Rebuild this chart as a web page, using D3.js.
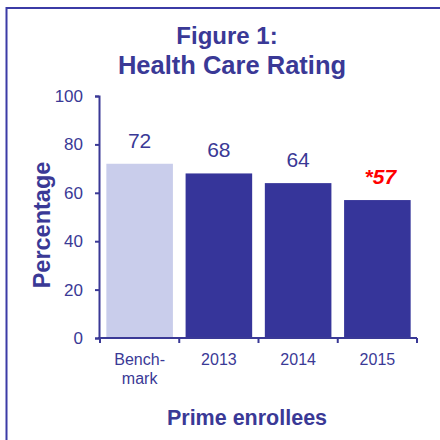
<!DOCTYPE html>
<html>
<head>
<meta charset="utf-8">
<script src="https://cdn.jsdelivr.net/npm/d3@7"></script>
<style>
  html, body { margin: 0; padding: 0; background: #fff; }
  svg { display: block; font-family: "Liberation Sans", Arial, sans-serif; }
</style>
</head>
<body>
<svg id="chart" width="440" height="440"></svg>
<script>
const categories = ["Benchmark", "2013", "2014", "2015"];
const categoryLabels = [["Bench-", "mark"], ["2013"], ["2014"], ["2015"]];
const values = [72, 68, 64, 57];
const valueLabels = ["72", "68", "64", "*57"];
const yTicks = [0, 20, 40, 60, 80, 100];

const textColor = "#3a3996";
const darkBar = "#36359a";
const lightBar = "#c9cdeb";

const svg = d3.select("#chart");

// frame
svg.append("rect")
  .attr("x", 6.5).attr("y", 8)
  .attr("width", 460).attr("height", 460)
  .attr("fill", "none")
  .attr("stroke", "#3b3ba6")
  .attr("stroke-width", 2);

// title
const title = svg.append("text")
  .attr("text-anchor", "middle")
  .attr("fill", textColor)
  .attr("font-weight", "bold");
title.append("tspan").attr("x", 227).attr("y", 44).attr("font-size", 24).text("Figure 1:");
title.append("tspan").attr("x", 232).attr("y", 74).attr("font-size", 25.5).text("Health Care Rating");

const x = d3.scaleBand().domain(categories).range([100, 417]).paddingInner(0.16).paddingOuter(0.08);
const y = d3.scaleLinear().domain([0, 100]).range([338, 96]);

// bars
svg.selectAll("rect.bar")
  .data(categories)
  .enter().append("rect")
  .attr("class", "bar")
  .attr("x", d => x(d))
  .attr("width", x.bandwidth())
  .attr("y", (d, i) => y(values[i]))
  .attr("height", (d, i) => y(0) - y(values[i]))
  .attr("fill", (d, i) => i === 0 ? lightBar : darkBar);

// value labels
svg.selectAll("text.val")
  .data(categories)
  .enter().append("text")
  .attr("class", "val")
  .attr("x", (d, i) => x(d) + x.bandwidth() / 2 + (i === 3 ? 3 : 0))
  .attr("y", (d, i) => y(values[i]) - 16)
  .attr("text-anchor", "middle")
  .attr("font-size", 21)
  .attr("fill", (d, i) => i === 3 ? "#ff0000" : textColor)
  .attr("font-weight", (d, i) => i === 3 ? "bold" : "normal")
  .attr("font-style", (d, i) => i === 3 ? "italic" : "normal")
  .text((d, i) => valueLabels[i]);

// y axis
const yAxis = svg.append("g")
  .attr("transform", "translate(99,0)")
  .call(d3.axisLeft(y).tickValues(yTicks).tickSize(4).tickPadding(12).tickFormat(d3.format("d")));
yAxis.select(".domain").attr("stroke", textColor).attr("stroke-width", 2);
yAxis.selectAll(".tick line").attr("stroke", textColor).attr("stroke-width", 2);
yAxis.selectAll(".tick text").attr("fill", textColor).attr("font-size", 17)
  .attr("font-family", "'Liberation Sans', Arial, sans-serif");

// x axis: line and ticks at band boundaries
const xAxisG = svg.append("g");
xAxisG.append("line")
  .attr("x1", 98).attr("x2", 417)
  .attr("y1", y(0)).attr("y2", y(0))
  .attr("stroke", textColor).attr("stroke-width", 2);
const edges = categories.map(d => x(d) - x.step() * x.paddingInner() / 2);
edges.push(417);
edges[0] = 100;
xAxisG.selectAll("line.xt")
  .data(edges)
  .enter().append("line")
  .attr("class", "xt")
  .attr("x1", d => d).attr("x2", d => d)
  .attr("y1", y(0)).attr("y2", y(0) + 5)
  .attr("stroke", textColor).attr("stroke-width", 2);

// x tick labels
const xl = svg.selectAll("text.xl")
  .data(categories)
  .enter().append("text")
  .attr("class", "xl")
  .attr("text-anchor", "middle")
  .attr("fill", textColor)
  .attr("font-size", 16);
xl.each(function(d, i) {
  const t = d3.select(this);
  categoryLabels[i].forEach((line, j) => {
    t.append("tspan")
      .attr("x", x(d) + x.bandwidth() / 2)
      .attr("y", 365 + j * 19)
      .text(line);
  });
});

// axis titles
svg.append("text")
  .attr("transform", "translate(50,225) rotate(-90)")
  .attr("text-anchor", "middle")
  .attr("fill", textColor)
  .attr("font-weight", "bold")
  .attr("font-size", 23.5)
  .text("Percentage");

svg.append("text")
  .attr("x", 247).attr("y", 425)
  .attr("text-anchor", "middle")
  .attr("fill", textColor)
  .attr("font-weight", "bold")
  .attr("font-size", 21.5)
  .text("Prime enrollees");
</script>
</body>
</html>
